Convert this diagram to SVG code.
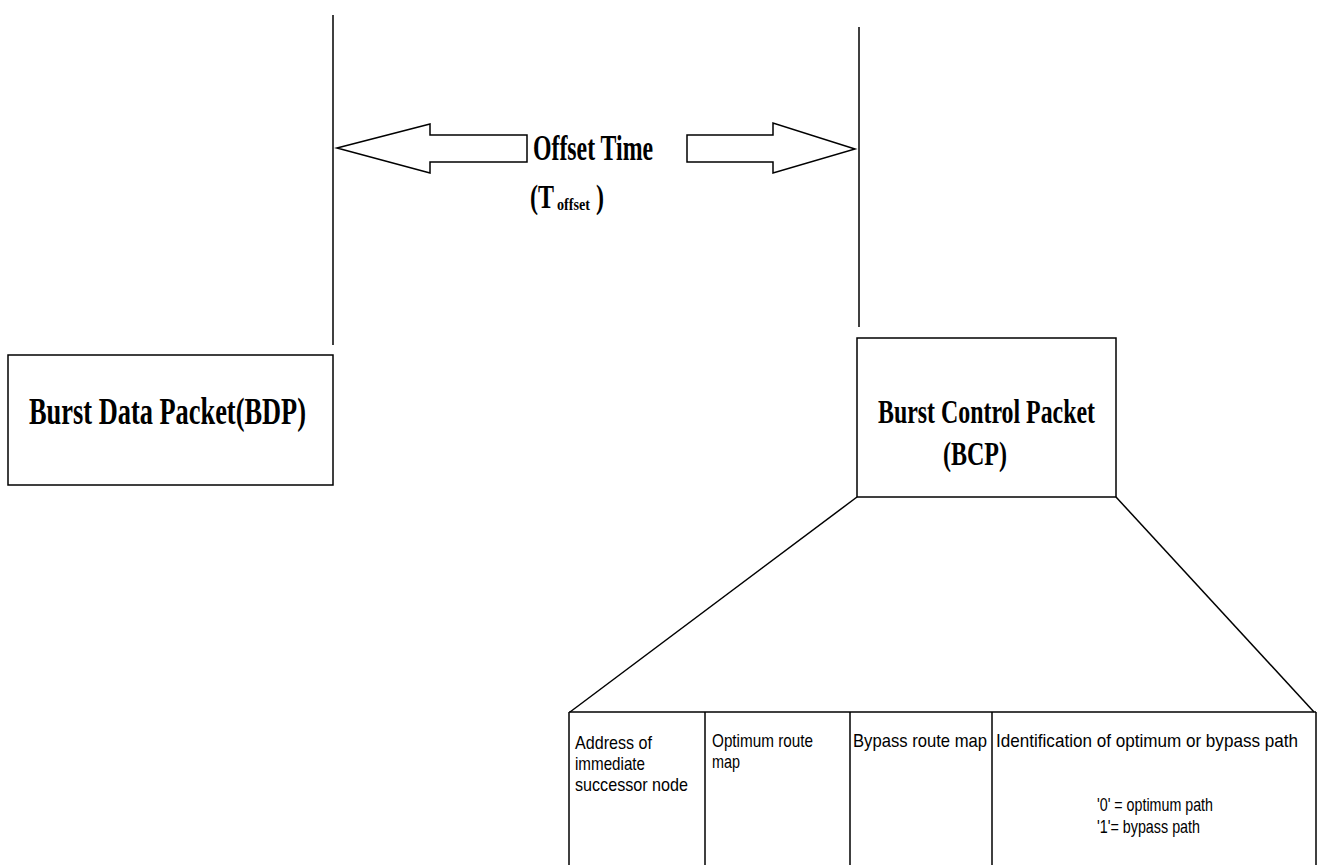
<svg xmlns="http://www.w3.org/2000/svg" width="1320" height="865" viewBox="0 0 1320 865">
<style>
.ln{stroke:#000;stroke-width:1.5;fill:none}
.box{stroke:#000;stroke-width:1.5;fill:#fff}
.arr{stroke:#000;stroke-width:1.5;fill:#fff;stroke-linejoin:miter}
.big{font-family:"Liberation Serif","Times New Roman",serif;font-weight:bold;fill:#000}
.cell{font-family:"Liberation Sans",Arial,sans-serif;font-size:19px;fill:#000}
</style>
<rect width="1320" height="865" fill="#fff"/>
<g id="connectors">
<line class="ln" x1="333" y1="15" x2="333" y2="345"/>
<line class="ln" x1="859" y1="27" x2="859" y2="327"/>
<polygon class="arr" points="337,148 430,124 430,135 527,135 527,162 430,162 430,173"/>
<polygon class="arr" points="687,135 773,135 773,123 855,149 773,173 773,162 687,162"/>
<line class="ln" x1="857" y1="497" x2="570" y2="712"/>
<line class="ln" x1="1116" y1="497" x2="1314" y2="712"/>
</g>
<g id="offset-label">
<text class="big" x="533" y="160" font-size="35" textLength="120" lengthAdjust="spacingAndGlyphs">Offset Time</text>
<text class="big" y="208" font-size="34"><tspan x="530" textLength="24" lengthAdjust="spacingAndGlyphs">(T</tspan><tspan x="557" y="210" font-size="17" textLength="33" lengthAdjust="spacingAndGlyphs">offset</tspan><tspan x="596" y="208" textLength="8" lengthAdjust="spacingAndGlyphs">)</tspan></text>
</g>
<g id="bdp">
<rect class="box" x="8" y="355" width="325" height="130"/>
<text class="big" x="29" y="424" font-size="37" textLength="277" lengthAdjust="spacingAndGlyphs">Burst Data Packet(BDP)</text>
</g>
<g id="bcp">
<rect class="box" x="857" y="338" width="259" height="159"/>
<text class="big" x="878" y="423" font-size="34" textLength="217" lengthAdjust="spacingAndGlyphs">Burst Control Packet</text>
<text class="big" x="943" y="465" font-size="34" textLength="64" lengthAdjust="spacingAndGlyphs">(BCP)</text>
</g>
<g id="table">
<line class="ln" x1="569" y1="712" x2="1316" y2="712"/>
<line class="ln" x1="569" y1="712" x2="569" y2="866"/>
<line class="ln" x1="705" y1="712" x2="705" y2="866"/>
<line class="ln" x1="850" y1="712" x2="850" y2="866"/>
<line class="ln" x1="992" y1="712" x2="992" y2="866"/>
<line class="ln" x1="1316" y1="712" x2="1316" y2="866"/>
<text class="cell" x="575" y="749" textLength="77" lengthAdjust="spacingAndGlyphs">Address of</text>
<text class="cell" x="575" y="770" textLength="70" lengthAdjust="spacingAndGlyphs">immediate</text>
<text class="cell" x="575" y="791" textLength="113" lengthAdjust="spacingAndGlyphs">successor node</text>
<text class="cell" x="712" y="747" textLength="101" lengthAdjust="spacingAndGlyphs">Optimum route</text>
<text class="cell" x="712" y="768" textLength="28" lengthAdjust="spacingAndGlyphs">map</text>
<text class="cell" x="853" y="747" textLength="134" lengthAdjust="spacingAndGlyphs">Bypass route map</text>
<text class="cell" x="996" y="747" textLength="302" lengthAdjust="spacingAndGlyphs">Identification of optimum or bypass path</text>
<text class="cell" x="1097" y="811" textLength="116" lengthAdjust="spacingAndGlyphs">'0' = optimum path</text>
<text class="cell" x="1097" y="833" textLength="103" lengthAdjust="spacingAndGlyphs">'1'= bypass path</text>
</g>
</svg>
